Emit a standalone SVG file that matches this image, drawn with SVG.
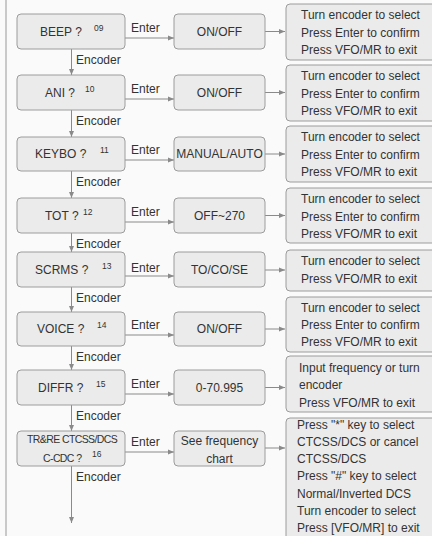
<svg xmlns="http://www.w3.org/2000/svg" width="432" height="536" viewBox="0 0 432 536">
<defs>
<style>
text{font-family:"Liberation Sans",Arial,sans-serif;font-size:12px;fill:#333}
.num{font-size:8.5px}
.mid{text-anchor:middle}
.cond{font-size:10.5px;letter-spacing:-0.6px}
.box{fill:#ebebeb;stroke:#9c9c9c;stroke-width:1}
.ln{stroke:#8a8a8a;stroke-width:1;fill:none}
</style>
<marker id="ah" viewBox="0 0 6 6" refX="6" refY="3" markerWidth="6" markerHeight="6" markerUnits="userSpaceOnUse" orient="auto">
<path d="M0,0.5 L6,3 L0,5.5 Z" fill="#8a8a8a"/>
</marker>
</defs>
<rect x="0" y="0" width="432" height="536" fill="#fafafa"/>
<line x1="6" y1="0" x2="6" y2="536" stroke="#b8b8b8" stroke-width="1.5"/>

<g id="connectors">
<path class="ln" marker-end="url(#ah)" d="M71.5,49 V75"/>
<path class="ln" marker-end="url(#ah)" d="M71.5,110 V137"/>
<path class="ln" marker-end="url(#ah)" d="M71.5,171 V198"/>
<path class="ln" marker-end="url(#ah)" d="M71.5,233 V252"/>
<path class="ln" marker-end="url(#ah)" d="M71.5,287 V312"/>
<path class="ln" marker-end="url(#ah)" d="M71.5,346 V370"/>
<path class="ln" marker-end="url(#ah)" d="M71.5,405 V431"/>
<path class="ln" marker-end="url(#ah)" d="M71.5,466 V523"/>
<text x="76" y="64">Encoder</text>
<text x="76" y="125">Encoder</text>
<text x="76" y="186">Encoder</text>
<text x="76" y="248">Encoder</text>
<text x="76" y="302">Encoder</text>
<text x="76" y="361">Encoder</text>
<text x="76" y="420">Encoder</text>
<text x="76" y="481">Encoder</text>

<path class="ln" marker-end="url(#ah)" d="M125,38 H174"/>
<path class="ln" marker-end="url(#ah)" d="M125,99 H174"/>
<path class="ln" marker-end="url(#ah)" d="M125,160 H174"/>
<path class="ln" marker-end="url(#ah)" d="M125,222 H174"/>
<path class="ln" marker-end="url(#ah)" d="M125,276 H174"/>
<path class="ln" marker-end="url(#ah)" d="M125,335 H174"/>
<path class="ln" marker-end="url(#ah)" d="M125,394 H174"/>
<path class="ln" marker-end="url(#ah)" d="M125,452 H174"/>
<text x="131" y="32">Enter</text>
<text x="131" y="93">Enter</text>
<text x="131" y="154">Enter</text>
<text x="131" y="216">Enter</text>
<text x="131" y="272">Enter</text>
<text x="131" y="329">Enter</text>
<text x="131" y="388">Enter</text>
<text x="131" y="446">Enter</text>

<path class="ln" marker-end="url(#ah)" d="M265,31.5 H285"/>
<path class="ln" marker-end="url(#ah)" d="M265,92.5 H285"/>
<path class="ln" marker-end="url(#ah)" d="M265,154 H285"/>
<path class="ln" marker-end="url(#ah)" d="M265,215.5 H285"/>
<path class="ln" marker-end="url(#ah)" d="M265,270 H285"/>
<path class="ln" marker-end="url(#ah)" d="M265,329 H285"/>
<path class="ln" marker-end="url(#ah)" d="M265,387.5 H285"/>
<path class="ln" marker-end="url(#ah)" d="M265,448 H285"/>
</g>

<g id="beep">
<rect class="box" x="17" y="14" width="108" height="35" rx="4"/>
<text x="40" y="36">BEEP ?</text><text class="num" x="94" y="31">09</text>
</g>
<g id="beep-val">
<rect class="box" x="174" y="14" width="91" height="35" rx="4"/>
<text class="mid" x="219.5" y="36">ON/OFF</text>
</g>
<g id="beep-info">
<rect class="box" x="286" y="4" width="152" height="56" rx="4"/>
<text x="301" y="19">Turn encoder to select</text>
<text x="301" y="37">Press Enter to confirm</text>
<text x="301" y="54">Press VFO/MR to exit</text>
</g>

<g id="ani">
<rect class="box" x="17" y="75" width="108" height="35" rx="4"/>
<text x="45" y="97">ANI ?</text><text class="num" x="85" y="92">10</text>
</g>
<g id="ani-val">
<rect class="box" x="174" y="75" width="91" height="35" rx="4"/>
<text class="mid" x="219.5" y="97">ON/OFF</text>
</g>
<g id="ani-info">
<rect class="box" x="286" y="65" width="152" height="56" rx="4"/>
<text x="301" y="80">Turn encoder to select</text>
<text x="301" y="98">Press Enter to confirm</text>
<text x="301" y="115">Press VFO/MR to exit</text>
</g>

<g id="keybo">
<rect class="box" x="17" y="137" width="108" height="34" rx="4"/>
<text x="35" y="158">KEYBO ?</text><text class="num" x="100" y="153">11</text>
</g>
<g id="keybo-val">
<rect class="box" x="174" y="137" width="91" height="34" rx="4"/>
<text class="mid" x="219.5" y="158">MANUAL/AUTO</text>
</g>
<g id="keybo-info">
<rect class="box" x="286" y="126" width="152" height="56" rx="4"/>
<text x="301" y="141">Turn encoder to select</text>
<text x="301" y="159">Press Enter to confirm</text>
<text x="301" y="176">Press VFO/MR to exit</text>
</g>

<g id="tot">
<rect class="box" x="17" y="198" width="108" height="35" rx="4"/>
<text x="45" y="220">TOT ?</text><text class="num" x="83" y="215">12</text>
</g>
<g id="tot-val">
<rect class="box" x="174" y="198" width="91" height="35" rx="4"/>
<text class="mid" x="219.5" y="220">OFF~270</text>
</g>
<g id="tot-info">
<rect class="box" x="286" y="188" width="152" height="55" rx="4"/>
<text x="301" y="203">Turn encoder to select</text>
<text x="301" y="221">Press Enter to confirm</text>
<text x="301" y="238">Press VFO/MR to exit</text>
</g>

<g id="scrms">
<rect class="box" x="17" y="252" width="108" height="35" rx="4"/>
<text x="35" y="274">SCRMS ?</text><text class="num" x="102" y="269">13</text>
</g>
<g id="scrms-val">
<rect class="box" x="174" y="252" width="91" height="35" rx="4"/>
<text class="mid" x="219.5" y="274">TO/CO/SE</text>
</g>
<g id="scrms-info">
<rect class="box" x="286" y="250" width="152" height="41" rx="4"/>
<text x="301" y="265">Turn encoder to select</text>
<text x="301" y="283">Press VFO/MR to exit</text>
</g>

<g id="voice">
<rect class="box" x="17" y="312" width="108" height="34" rx="4"/>
<text x="37" y="333">VOICE ?</text><text class="num" x="97" y="328">14</text>
</g>
<g id="voice-val">
<rect class="box" x="174" y="312" width="91" height="34" rx="4"/>
<text class="mid" x="219.5" y="333">ON/OFF</text>
</g>
<g id="voice-info">
<rect class="box" x="286" y="297" width="152" height="55" rx="4"/>
<text x="301" y="312">Turn encoder to select</text>
<text x="301" y="329">Press Enter to confirm</text>
<text x="301" y="346">Press VFO/MR to exit</text>
</g>

<g id="diffr">
<rect class="box" x="17" y="370" width="108" height="35" rx="4"/>
<text x="38" y="392">DIFFR ?</text><text class="num" x="96" y="387">15</text>
</g>
<g id="diffr-val">
<rect class="box" x="174" y="370" width="91" height="35" rx="4"/>
<text class="mid" x="219.5" y="392">0-70.995</text>
</g>
<g id="diffr-info">
<rect class="box" x="286" y="356" width="152" height="56" rx="4"/>
<text x="299" y="372">Input frequency or turn</text>
<text x="299" y="389">encoder</text>
<text x="299" y="407">Press VFO/MR to exit</text>
</g>

<g id="trre">
<rect class="box" x="17" y="431" width="108" height="35" rx="4"/>
<text class="cond" x="27" y="443">TR&amp;RE CTCSS/DCS</text>
<text class="cond" x="43" y="462">C-CDC ?</text><text class="num" x="92" y="457">16</text>
</g>
<g id="trre-val">
<rect class="box" x="174" y="431" width="91" height="35" rx="4"/>
<text class="mid" x="219.5" y="445">See frequency</text>
<text class="mid" x="219.5" y="463">chart</text>
</g>
<g id="trre-info">
<rect class="box" x="286" y="418" width="152" height="130" rx="4"/>
<text x="297" y="429">Press "*" key to select</text>
<text x="297" y="446">CTCSS/DCS or cancel</text>
<text x="297" y="463">CTCSS/DCS</text>
<text x="297" y="480">Press "#" key to select</text>
<text x="297" y="498">Normal/Inverted DCS</text>
<text x="297" y="515">Turn encoder to select</text>
<text x="297" y="532">Press [VFO/MR] to exit</text>
</g>
</svg>
